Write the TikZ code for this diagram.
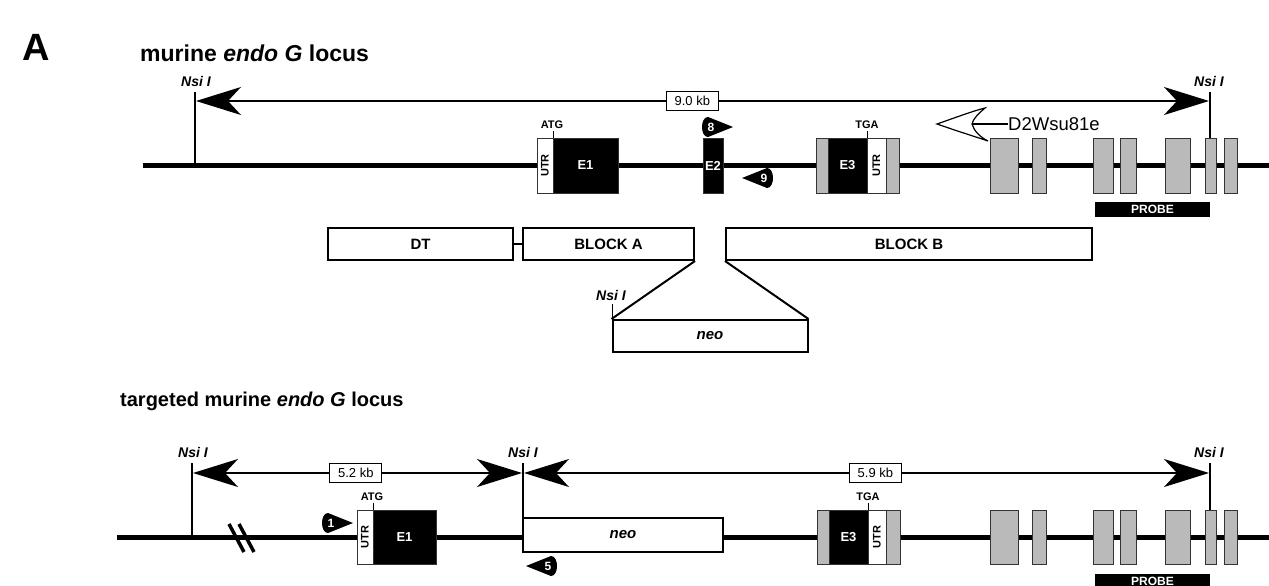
\documentclass[tikz,border=0pt]{standalone}
\usepackage{fontspec}
\setmainfont{Liberation Sans}
\usetikzlibrary{arrows.meta}
\newcommand\myfs[1]{\fontsize{#1}{#1}\selectfont}
% right-pointing primer: name, cx, cy, number
\newcommand\primR[4]{%
  \fill (#2-10,#3-10) -- (#2+15,#3) -- (#2-10,#3+10) .. controls (#2-18,#3+10) and (#2-18,#3-10) .. cycle;
  \node[primnum] (#1) at (#2-7,#3+0.5) {#4};}
% left-pointing primer
\newcommand\primL[4]{%
  \fill (#2+10,#3-10) -- (#2-15,#3) -- (#2+10,#3+10) .. controls (#2+18,#3+10) and (#2+18,#3-10) .. cycle;
  \node[primnum] (#1) at (#2+7,#3+0.5) {#4};}
\begin{document}
\begin{tikzpicture}[x=1pt,y=-1pt,
  gene/.style={line width=5pt},
  site/.style={line width=1.3pt},
  sitelab/.style={font=\myfs{14}\bfseries\itshape, anchor=base, inner sep=0pt},
  meas/.style={line width=1.5pt, {Stealth[length=45pt,width=28pt,inset=13pt]}-{Stealth[length=45pt,width=28pt,inset=13pt]}},
  kb/.style={draw, line width=1.3pt, fill=white, font=\myfs{13}, minimum width=52pt, minimum height=19pt, inner sep=0pt},
  grex/.style={draw=black!80, fill=black!27, line width=1pt},
  blkex/.style={draw=black!80, fill=black, line width=1pt},
  whex/.style={draw=black!80, fill=white, line width=1pt},
  exlab/.style={font=\myfs{13}\bfseries, text=white, inner sep=0pt},
  utrlab/.style={font=\myfs{11}\bfseries, rotate=90, inner sep=0pt},
  codon/.style={font=\myfs{11}\bfseries, anchor=base, inner sep=0pt},
  probe/.style={fill=black, text=white, font=\myfs{12}\bfseries, minimum width=115pt, minimum height=15pt, inner sep=0pt},
  blk/.style={draw, line width=2pt, fill=white, font=\myfs{15}\bfseries, minimum height=32pt, inner sep=0pt},
  primnum/.style={font=\myfs{12}\bfseries, text=white, inner sep=0pt},
  head/.style={font=\myfs{22}\bfseries, anchor=base west, inner sep=0pt},
  tick/.style={line width=1pt},
]
\clip (0,0) rectangle (1269,586);
\fill[white] (0,0) rectangle (1269,586);

% ---------------- top: wild-type locus ----------------
\node[font=\myfs{38}\bfseries, anchor=base west, inner sep=0pt] (lblA) at (22,60) {A};
\node[head, font=\myfs{23}\bfseries] (h1) at (140,62) {murine \textit{endo G} locus};

\draw[gene] (143,165) -- (1269,165);

% Nsi I sites
\coordinate (n1t) at (195,92);  \coordinate (n1b) at (195,165);
\coordinate (n2t) at (1210,92); \coordinate (n2b) at (1210,138);
\node[sitelab] (n1l) at (196,87) {Nsi I};
\node[sitelab] (n2l) at (1209,87) {Nsi I};
\draw[site] (n1t) -- (n1b);

% 9.0 kb
\coordinate (a1) at (195,101); \coordinate (a2) at (1210,101);
\draw[meas, shorten <=1pt, shorten >=1pt] (a1) -- node[kb, pos=0.49] (kb1) {9.0 kb} (a2);

% exon 1
\filldraw[whex] (537,138) rectangle (553,193);
\node[utrlab] (utr1) at (545,165.5) {UTR};
\filldraw[blkex] (553,138) rectangle (618,193);
\node[exlab] (e1) at (585.5,165.5) {E1};
\draw[tick] (553,131) -- (553,138);
\node[codon] (atg1) at (552,128) {ATG};

% exon 2
\filldraw[blkex] (703,138) rectangle (723,193);
\node[exlab] (e2) at (713,165.5) {E2};

% exon 3
\filldraw[grex] (816,138) rectangle (828,193);
\filldraw[blkex] (828,138) rectangle (867,193);
\filldraw[whex] (867,138) rectangle (886,193);
\filldraw[grex] (886,138) rectangle (899,193);
\node[exlab] (e3) at (847.5,165.5) {E3};
\node[utrlab] (utr3) at (876.5,165.5) {UTR};
\draw[tick] (867,131) -- (867,138);
\node[codon] (tga1) at (867,128) {TGA};

% neighbouring gene
\foreach \a/\b in {990/1018,1032/1046,1093/1113,1120/1136,1165/1190,1205/1216,1224/1237}
  \filldraw[grex] (\a,138) rectangle (\b,193);
\draw[site] (n2t) -- (n2b);
\node[probe] (pr1) at (1152.5,209) {PROBE};

\node[font=\myfs{18.5}, anchor=west, inner sep=0pt] (d2) at (1008,124) {D2Wsu81e};
\coordinate (d2n) at (972,124);
\draw[line width=1.2pt] (d2.west) -- (d2n);
\filldraw[fill=white, line width=1.2pt] (937,124) .. controls (957,117) and (973,111) .. (985,108)
  .. controls (978,114) and (973,119) .. (d2n)
  .. controls (974,131) and (980,137) .. (988,141)
  .. controls (973,136) and (957,131) .. cycle;

% primers 8 and 9
\primR{p8}{718}{127}{8}
\primL{p9}{757}{178}{9}

% ---------------- targeting construct ----------------
\node[blk, minimum width=185pt] (dt) at (420.5,244) {DT};
\node[blk, minimum width=171pt] (ba) at (608.5,244) {BLOCK A};
\node[blk, minimum width=366pt] (bb) at (909,244) {BLOCK B};
\draw[line width=2pt] (dt.east) -- (ba.west);
\node[blk, minimum width=195pt, font=\myfs{15}\bfseries\itshape] (neo1) at (710,336) {neo};
\draw[line width=2pt] (ba.south east) -- (neo1.north west);
\draw[line width=2pt] (bb.south west) -- (neo1.north east);
\coordinate (n3t) at (612.5,304);
\draw[site] (n3t) -- (n3t |- neo1.north);
\node[sitelab] (n3l) at (611,300) {Nsi I};

% ---------------- bottom: targeted locus ----------------
\node[head, font=\myfs{20}\bfseries] (h2) at (120,406) {targeted murine \textit{endo G} locus};
\draw[gene] (117,537) -- (1269,537);
\draw[line width=3.5pt] (229,524) -- (244,552);
\draw[line width=3.5pt] (239,524) -- (254,552);

\coordinate (m1t) at (192,463); \coordinate (m1b) at (192,537);
\coordinate (m2t) at (523,463);
\coordinate (m3t) at (1210,463); \coordinate (m3b) at (1210,510);
\node[sitelab] (m1l) at (193,457) {Nsi I};
\node[sitelab] (m2l) at (523,457) {Nsi I};
\node[sitelab] (m3l) at (1209,457) {Nsi I};
\draw[site] (m1t) -- (m1b);

\coordinate (b1) at (192,473); \coordinate (b2) at (523,473); \coordinate (b3) at (1210,473);
\draw[meas, shorten <=1pt, shorten >=1pt] (b1) -- node[kb, pos=0.495] (kb2) {5.2 kb} (b2);
\draw[meas, shorten <=1pt, shorten >=1pt] (b2) -- node[kb, pos=0.513] (kb3) {5.9 kb} (b3);

% exon 1
\filldraw[whex] (357,510) rectangle (373,564);
\node[utrlab] (utr4) at (365,537) {UTR};
\filldraw[blkex] (373,510) rectangle (436,564);
\node[exlab] (e1b) at (404.5,537) {E1};
\draw[tick] (373,503) -- (373,510);
\node[codon] (atg2) at (372,500) {ATG};

% neo cassette
\node[draw, line width=2pt, fill=white, font=\myfs{15}\bfseries\itshape, minimum width=200pt, minimum height=34pt, inner sep=0pt] (neo2) at (623,535) {neo};
\draw[site] (m2t) -- (m2t |- neo2.north);

% exon 3
\filldraw[grex] (817,510) rectangle (829,564);
\filldraw[blkex] (829,510) rectangle (868,564);
\filldraw[whex] (868,510) rectangle (886,564);
\filldraw[grex] (886,510) rectangle (900,564);
\node[exlab] (e3b) at (848.5,537) {E3};
\node[utrlab] (utr5) at (877,537) {UTR};
\draw[tick] (868,503) -- (868,510);
\node[codon] (tga2) at (868,500) {TGA};

\foreach \a/\b in {990/1018,1032/1046,1093/1113,1120/1136,1165/1190,1205/1216,1224/1237}
  \filldraw[grex] (\a,510) rectangle (\b,564);
\draw[site] (m3t) -- (m3b);
\node[probe] (pr2) at (1152.5,581) {PROBE};

\primR{p1}{338}{523}{1}
\primL{p5}{541}{566}{5}
\end{tikzpicture}
\end{document}
